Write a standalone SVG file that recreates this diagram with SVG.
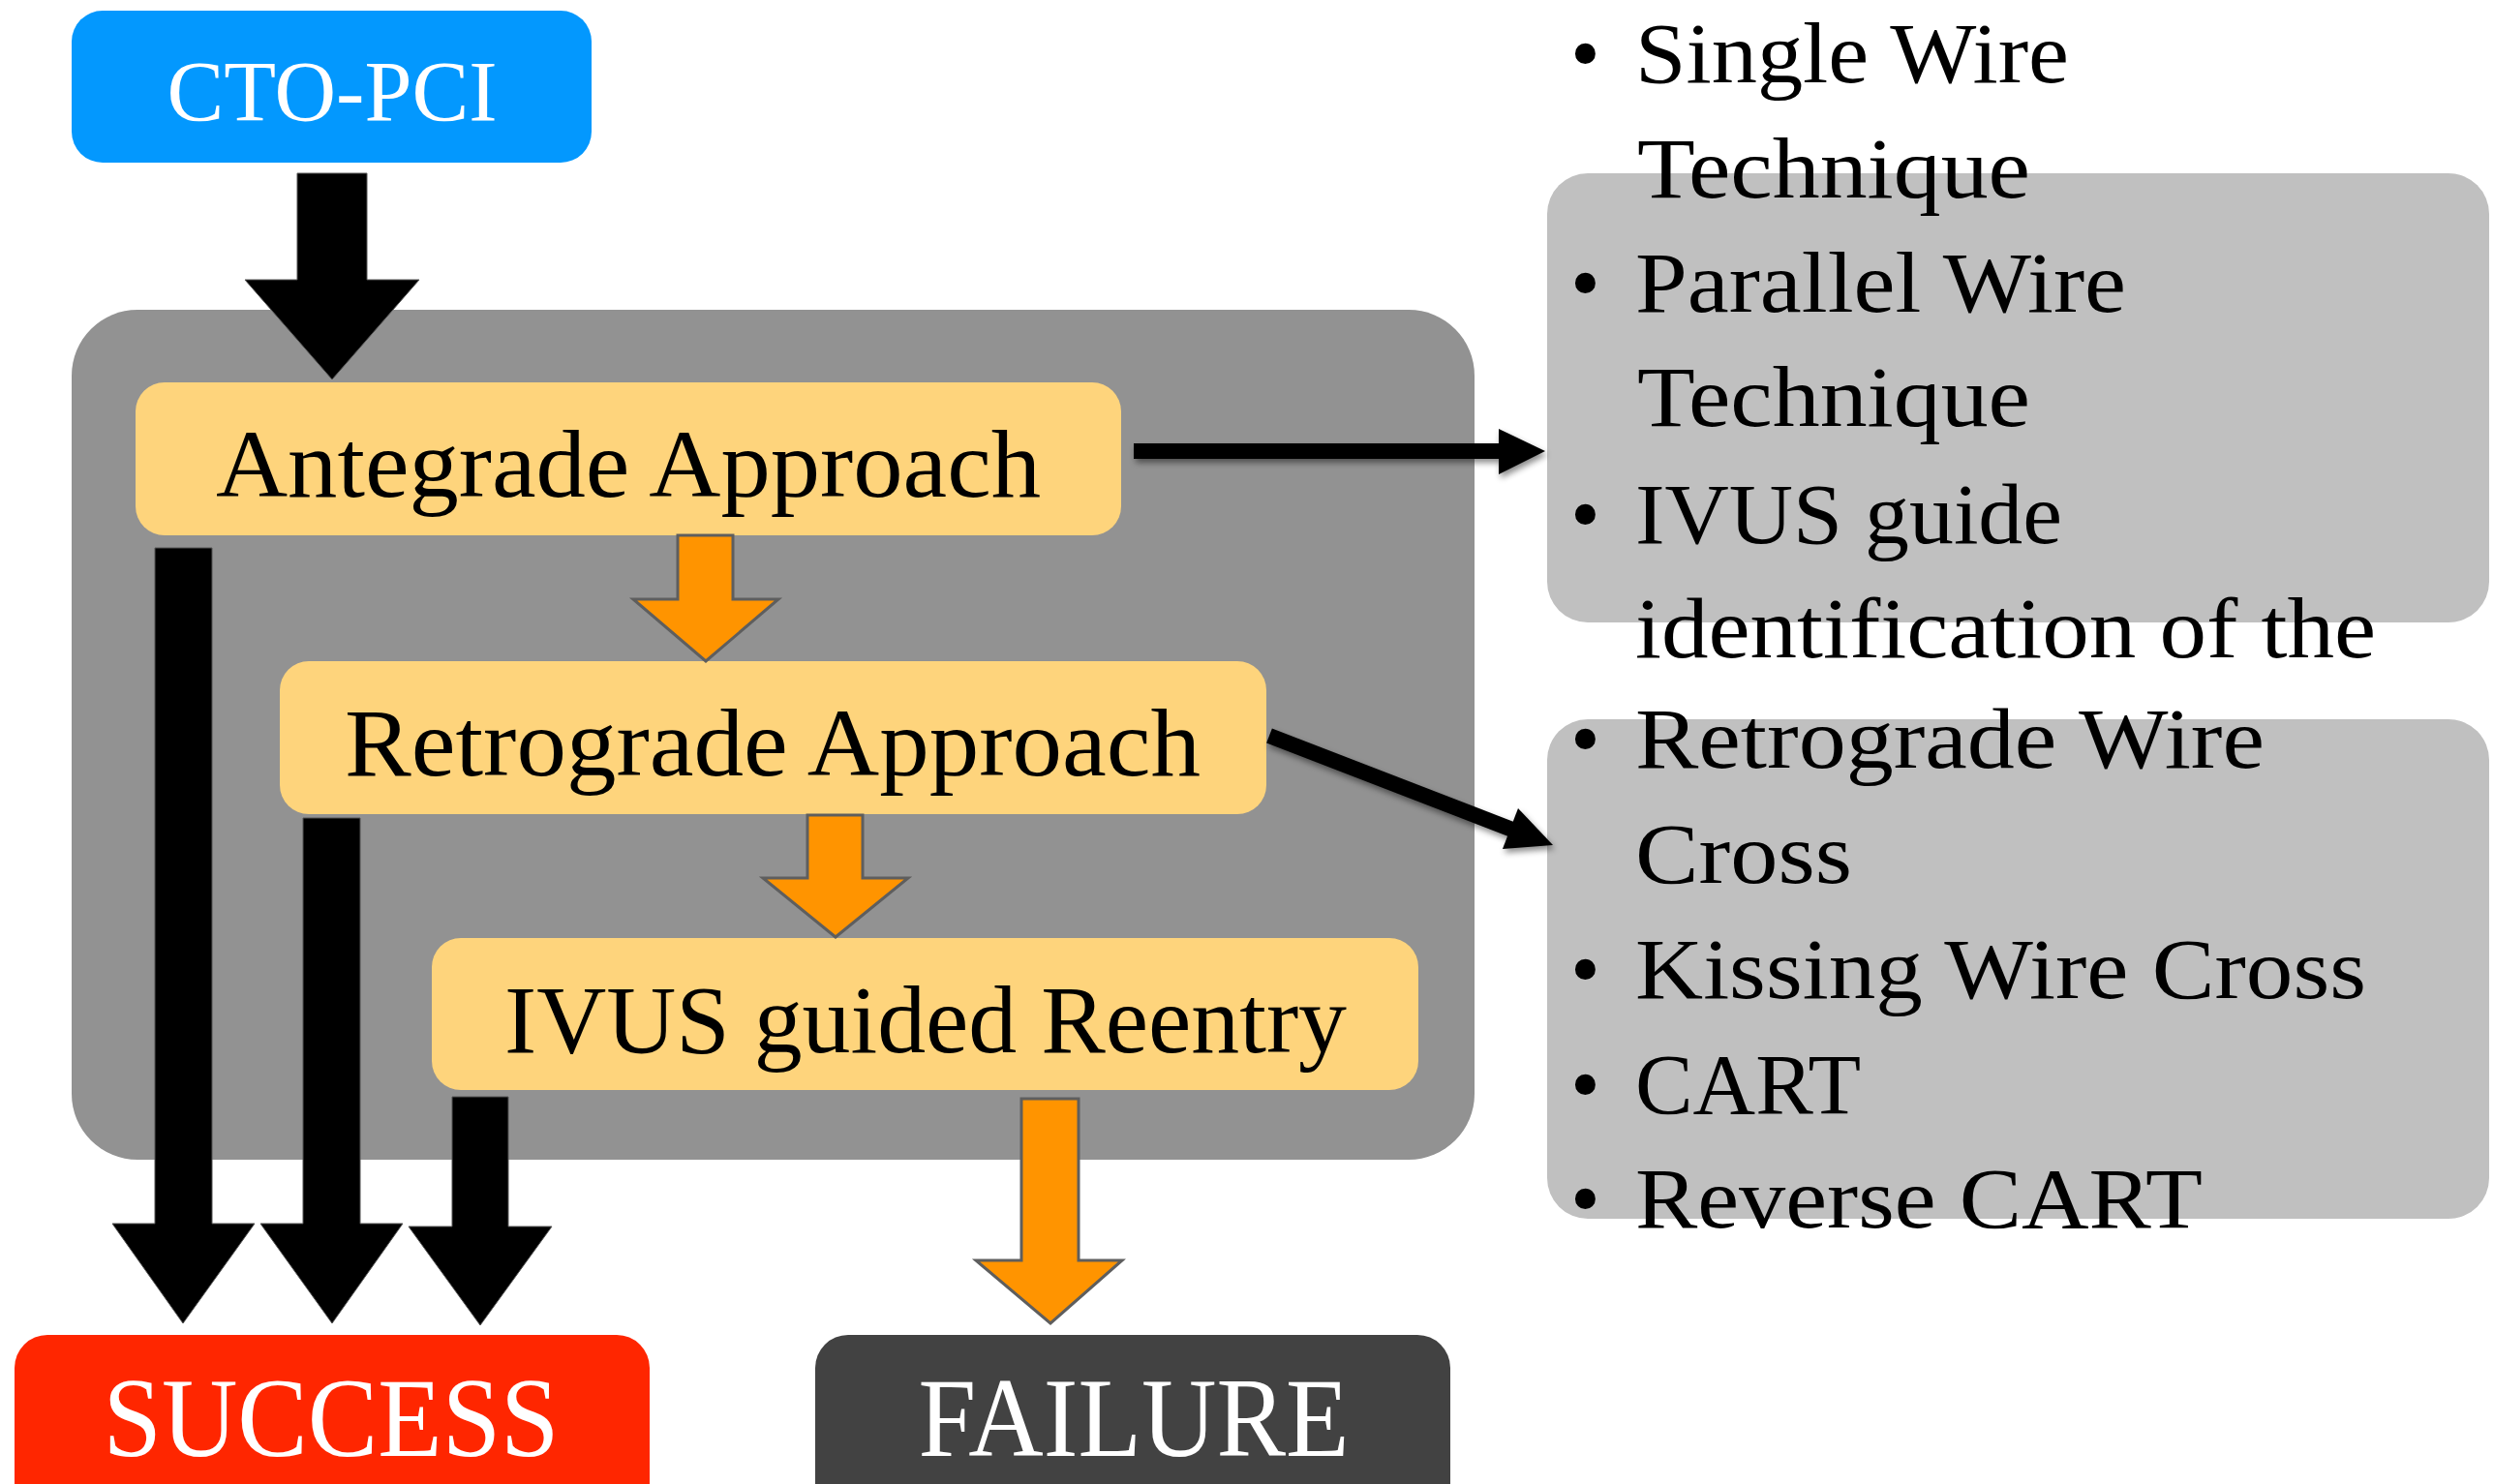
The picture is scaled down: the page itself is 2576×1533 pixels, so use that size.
<svg xmlns="http://www.w3.org/2000/svg" width="2576" height="1533" viewBox="0 0 2576 1533">
<defs>
<style>
text{font-family:"Liberation Serif","Times New Roman",serif}
.step{fill:#FED47C}
.steptxt{font-size:100px;fill:#000;text-anchor:middle}
.list{font-size:88px;fill:#000}
.blk{fill:#000;stroke:#555;stroke-width:1}
.org{fill:#FF9400;stroke:#5E5E5E;stroke-width:3}
.term{font-size:116px;fill:#fff;text-anchor:middle}
</style>
<filter id="sh" x="-10%" y="-10%" width="130%" height="150%">
<feDropShadow dx="2" dy="4" stdDeviation="3" flood-color="#000" flood-opacity="0.45"/>
</filter>
</defs>
<rect width="2576" height="1533" fill="#fff"/>

<g id="right-box-1">
<rect x="1598" y="179" width="973" height="464" rx="42" fill="#C0C0C0"/>
</g>
<g id="right-box-2">
<rect x="1598" y="743" width="973" height="516" rx="42" fill="#C0C0C0"/>
</g>

<g id="technique-list-1">
<text class="list" x="1622" y="85">•</text><text class="list" x="1689" y="85" textLength="448" lengthAdjust="spacingAndGlyphs">Single Wire</text>
<text class="list" x="1691" y="204" textLength="406" lengthAdjust="spacingAndGlyphs">Technique</text>
<text class="list" x="1622" y="322">•</text><text class="list" x="1689" y="322" textLength="507" lengthAdjust="spacingAndGlyphs">Parallel Wire</text>
<text class="list" x="1691" y="440" textLength="406" lengthAdjust="spacingAndGlyphs">Technique</text>
<text class="list" x="1622" y="561">•</text><text class="list" x="1689" y="561" textLength="441" lengthAdjust="spacingAndGlyphs">IVUS guide</text>
<text class="list" x="1689" y="679" textLength="765" lengthAdjust="spacingAndGlyphs">identification of the</text>
</g>

<g id="technique-list-2">
<text class="list" x="1622" y="793">•</text><text class="list" x="1689" y="793" textLength="650" lengthAdjust="spacingAndGlyphs">Retrograde Wire</text>
<text class="list" x="1689" y="912" textLength="224" lengthAdjust="spacingAndGlyphs">Cross</text>
<text class="list" x="1622" y="1031">•</text><text class="list" x="1689" y="1031" textLength="755" lengthAdjust="spacingAndGlyphs">Kissing Wire Cross</text>
<text class="list" x="1622" y="1150">•</text><text class="list" x="1689" y="1150" textLength="233" lengthAdjust="spacingAndGlyphs">CART</text>
<text class="list" x="1622" y="1268">•</text><text class="list" x="1689" y="1268" textLength="586" lengthAdjust="spacingAndGlyphs">Reverse CART</text>
</g>

<g id="cto-pci">
<rect x="74" y="11" width="537" height="157" rx="32" fill="#0398FE"/>
<text x="343" y="124" font-size="88" fill="#fff" text-anchor="middle" textLength="341" lengthAdjust="spacingAndGlyphs">CTO-PCI</text>
</g>

<g id="strategy-container">
<rect x="74" y="320" width="1449" height="878" rx="68" fill="#929292"/>
</g>

<g id="antegrade">
<rect class="step" x="140" y="395" width="1018" height="158" rx="30"/>
<text class="steptxt" x="649" y="513" textLength="852" lengthAdjust="spacingAndGlyphs">Antegrade Approach</text>
</g>
<g id="retrograde">
<rect class="step" x="289" y="683" width="1019" height="158" rx="30"/>
<text class="steptxt" x="798" y="801" textLength="884" lengthAdjust="spacingAndGlyphs">Retrograde Approach</text>
</g>
<g id="ivus-reentry">
<rect class="step" x="446" y="969" width="1019" height="157" rx="30"/>
<text class="steptxt" x="956" y="1087" textLength="870" lengthAdjust="spacingAndGlyphs">IVUS guided Reentry</text>
</g>

<g id="success">
<rect x="15" y="1379" width="656" height="200" rx="34" fill="#FF2600"/>
<text class="term" x="342" y="1504" textLength="471" lengthAdjust="spacingAndGlyphs">SUCCESS</text>
</g>
<g id="failure">
<rect x="842" y="1379" width="656" height="200" rx="34" fill="#424242"/>
<text class="term" x="1171" y="1504" textLength="445" lengthAdjust="spacingAndGlyphs">FAILURE</text>
</g>

<g id="connectors">
<polygon class="blk" points="307,179 379,179 379,289 433,289 343,392 253,289 307,289"/>
<polygon class="blk" points="160,566 219,566 219,1264 263,1264 189,1367 116,1264 160,1264"/>
<polygon class="blk" points="313,845 372,845 372,1264 416,1264 343,1367 269,1264 313,1264"/>
<polygon class="blk" points="467,1133 525,1133 525,1267 570,1267 496,1369 422,1267 467,1267"/>
<polygon class="org" points="700,553 757,553 757,619 804,619 729,683 654,619 700,619"/>
<polygon class="org" points="834,842 891,842 891,907 938,907 863,968 788,907 834,907"/>
<polygon class="org" points="1055,1135 1114,1135 1114,1302 1159,1302 1085,1367 1008,1302 1055,1302"/>
<g filter="url(#sh)">
<line x1="1171" y1="466" x2="1552" y2="466" stroke="#000" stroke-width="16"/>
<polygon points="1548,443 1596,466 1548,490" fill="#000"/>
</g>
<g filter="url(#sh)">
<line x1="1311" y1="760" x2="1562" y2="857" stroke="#000" stroke-width="16"/>
<polygon points="1568,835 1604,873 1552,877" fill="#000"/>
</g>
</g>
</svg>
